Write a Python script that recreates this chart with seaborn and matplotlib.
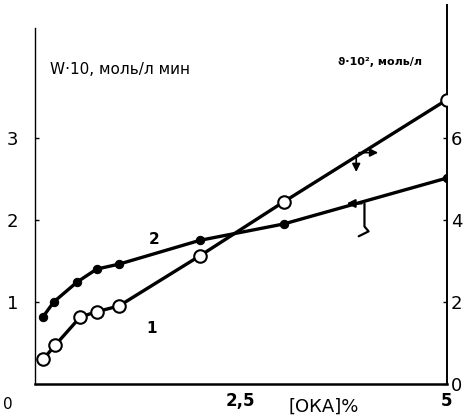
import numpy as np
import matplotlib
matplotlib.use('Agg')
import matplotlib.pyplot as plt
import seaborn as sns

sns.set_theme(style='white')
plt.rcParams['font.family'] = ['DejaVu Sans']
plt.rcParams['text.color'] = 'black'

# OKA concentration, %
oka = [0.10, 0.23, 0.51, 0.75, 1.02, 2.0, 3.02, 5.0]
# curve 2 (filled): W*10, mol/l*min  -> left axis
w_rate = [0.82, 1.00, 1.24, 1.40, 1.46, 1.75, 1.95, 2.51]
# curve 1 (open): theta*10^2, mol/l -> right axis
oka1 = [0.10, 0.25, 0.55, 0.75, 1.02, 2.0, 3.02, 5.0]
theta = [0.60, 0.95, 1.63, 1.76, 1.90, 3.12, 4.44, 6.93]

left_ticks = [1, 2, 3]
right_ticks = [0, 2, 4, 6]
x_ticks = [2.5, 5]
x_labels = ['2,5', '5']

fig = plt.figure(figsize=(4.65, 4.2), dpi=100)
ax = fig.add_axes([0.075, 0.086, 0.886, 0.902])
ax2 = ax.twinx()

sns.lineplot(x=oka, y=w_rate, ax=ax, color='black', lw=2.4, marker='o',
             markersize=6, markerfacecolor='black', markeredgecolor='black')
sns.lineplot(x=oka1, y=theta, ax=ax2, color='black', lw=2.4, marker='o',
             markersize=9, markerfacecolor='white', markeredgecolor='black',
             markeredgewidth=1.5, zorder=3)

ax.set_xlim(0, 5)
ax.set_ylim(0, 4.62)
ax2.set_ylim(0, 9.24)

for a in (ax, ax2):
    a.set_facecolor('none')
    a.grid(False)
    for s in a.spines.values():
        s.set_visible(False)
ax.spines['left'].set_visible(True)
ax.spines['left'].set_bounds(0, 4.34)
ax.spines['left'].set_linewidth(1.0)
ax.spines['bottom'].set_visible(True)
ax.spines['bottom'].set_linewidth(1.8)
ax2.spines['right'].set_visible(True)
ax2.spines['right'].set_linewidth(1.4)
for s in (ax.spines['left'], ax.spines['bottom'], ax2.spines['right']):
    s.set_color('black')

ax.set_yticks(left_ticks)
ax.set_yticklabels([str(t) for t in left_ticks], fontsize=13)
ax2.set_yticks(right_ticks)
ax2.set_yticklabels([str(t) for t in right_ticks], fontsize=13)
ax.set_xticks(x_ticks)
ax.set_xticklabels(x_labels, fontsize=12, fontweight='bold')
ax.tick_params(axis='y', direction='in', length=3, width=1, pad=12,
               colors='black', labelcolor='black')
ax2.tick_params(axis='y', direction='in', length=3, width=1, pad=3,
                colors='black', labelcolor='black')
ax.tick_params(axis='x', direction='in', length=3, width=1, pad=6,
               colors='black', labelcolor='black')

ax.text(-0.065, -0.055, '0', transform=ax.transAxes, fontsize=11, ha='center', va='center')
ax.text(3.5, -0.28, '[ОКА]%', fontsize=13, ha='center', va='center')
ax.text(0.18, 3.84, 'W·10, моль/л мин', fontsize=11, ha='left', va='center')
ax.text(3.68, 3.92, 'ϑ·10², моль/л', fontsize=8, ha='left', va='center', fontweight='bold')
ax.text(1.45, 1.76, '2', fontsize=11, fontweight='bold', ha='center', va='center')
ax.text(1.42, 0.67, '1', fontsize=11, fontweight='bold', ha='center', va='center')

# arrows showing which axis each curve belongs to
ax2.annotate('', xy=(4.2, 5.64), xytext=(3.9, 5.64),
             arrowprops=dict(arrowstyle='-|>', color='black', lw=1.2))
ax2.annotate('', xy=(3.9, 5.1), xytext=(3.9, 5.64),
             arrowprops=dict(arrowstyle='-|>', color='black', lw=1.2))
ax.annotate('', xy=(3.75, 2.2), xytext=(4.0, 2.2),
            arrowprops=dict(arrowstyle='-|>', color='black', lw=1.5))
ax.plot([4.0, 4.0, 4.05, 3.93], [2.2, 1.92, 1.86, 1.8], color='black', lw=1.6)

fig.savefig('out.png', dpi=100)
